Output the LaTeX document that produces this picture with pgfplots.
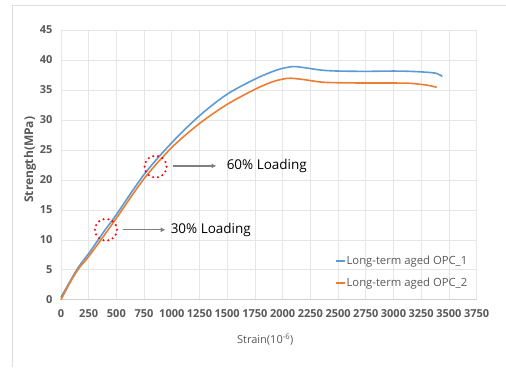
\documentclass[border=0pt]{standalone}
\usepackage{pgfplots}
\pgfplotsset{compat=1.18}
\usetikzlibrary{arrows.meta}
\usepackage{fontspec}
\setmainfont{Open Sans}

\definecolor{opcblue}{RGB}{91,155,213}
\definecolor{opcorange}{RGB}{237,125,49}
\definecolor{labelgray}{RGB}{89,89,89}
\definecolor{gridgray}{RGB}{230,230,230}
\definecolor{framegray}{RGB}{222,222,222}
\definecolor{arrowgray}{RGB}{127,127,127}

\pgfplotstableread{
strain stress
0    0.4
80   3.0
160  5.5
250  7.7
400  11.7
500  14.2
750  20.9
1000 26.2
1250 30.7
1500 34.3
1750 36.8
1900 38.0
2000 38.6
2100 38.9
2200 38.7
2350 38.3
2500 38.15
2750 38.1
3000 38.15
3150 38.1
3300 37.95
3390 37.75
3440 37.25
}\opcone

\pgfplotstableread{
strain stress
0    0.0
80   2.8
160  5.2
250  7.2
400  11.0
500  13.6
750  20.2
1000 25.4
1250 29.4
1500 32.6
1750 35.1
1900 36.3
2000 36.8
2075 36.95
2200 36.7
2350 36.3
2500 36.2
2750 36.15
3000 36.15
3150 36.1
3300 35.8
3390 35.45
}\opctwo

\begin{document}
\begin{tikzpicture}
\begin{axis}[
  scale only axis, width=416pt, height=270pt,
  clip=false,
  xmin=0, xmax=3750, ymin=0, ymax=45,
  xtick={0,250,...,3750}, ytick={0,5,...,45},
  grid=major,
  major grid style={gridgray, line width=0.6pt},
  axis x line*=bottom, axis y line*=left,
  x axis line style={draw={rgb,255:red,210;green,210;blue,210}, line width=0.7pt, -},
  y axis line style={draw=none},
  major tick length=0pt,
  scaled x ticks=false,
  /pgf/number format/assume math mode=true,
  /pgf/number format/1000 sep={},
  tick label style={font=\fontsize{11}{13}\selectfont\bfseries, text=labelgray},
  xticklabel style={yshift=-6pt},
  yticklabel style={xshift=-5pt},
  xlabel={Strain(10\textsuperscript{-6})},
  ylabel={Strength(MPa)},
  xlabel style={at={(axis description cs:0.4916,-0.148)}, anchor=center,
    font=\fontsize{11}{13}\selectfont, text=labelgray},
  ylabel style={at={(axis description cs:-0.0745,0.519)}, anchor=center,
    font=\fontsize{12}{14}\selectfont\bfseries, text=labelgray},
  legend cell align=left,
  legend style={at={(axis description cs:0.659,0.102)}, anchor=west,
    fill=none, inner sep=0pt, row sep=11pt, draw=none,
    font=\fontsize{11.3}{13}\selectfont, text=labelgray,
    nodes={inner sep=0.5pt}},
  legend image code/.code={\draw[#1, line width=2pt] (0pt,0pt) -- (9pt,0pt);},
]
% page extent and chart area frame
\path (rel axis cs:-0.1466,-0.248) -- (rel axis cs:1.0697,1.1111);
\draw[framegray, line width=0.8pt] (rel axis cs:-0.1166,-0.248)
  -- (rel axis cs:-0.1166,1.0926) -- (rel axis cs:1.0697,1.0926);

\addplot[draw=opcblue, line width=1.6pt, smooth] table[x=strain, y=stress] {\opcone};
\addlegendentry{Long-term aged OPC\_1}
\addplot[draw=opcorange, line width=1.6pt, smooth] table[x=strain, y=stress] {\opctwo};
\addlegendentry{Long-term aged OPC\_2}

% loading level markers
\draw[red, line width=2.3pt, dash pattern=on 0pt off 4.9pt, line cap=round]
  (axis cs:854,22.2) circle[radius=11pt];
\draw[red, line width=2.3pt, dash pattern=on 0pt off 4.9pt, line cap=round]
  (axis cs:406,11.67) circle[radius=11pt];
\draw[arrowgray, line width=1.3pt, -{Latex[length=5pt,width=5pt]}]
  (axis cs:1007,22.33) -- (axis cs:1404,22.33);
\draw[arrowgray, line width=1.3pt, -{Latex[length=5pt,width=5pt]}]
  (axis cs:556,11.67) -- (axis cs:944,11.67);
\node[anchor=west, inner sep=0pt, font=\fontsize{13.5}{15}\selectfont]
  at (axis cs:1494,22.33) {60\%\ Loading};
\node[anchor=west, inner sep=0pt, font=\fontsize{13.5}{15}\selectfont]
  at (axis cs:989,11.67) {30\%\ Loading};
\end{axis}
\end{tikzpicture}
\end{document}
